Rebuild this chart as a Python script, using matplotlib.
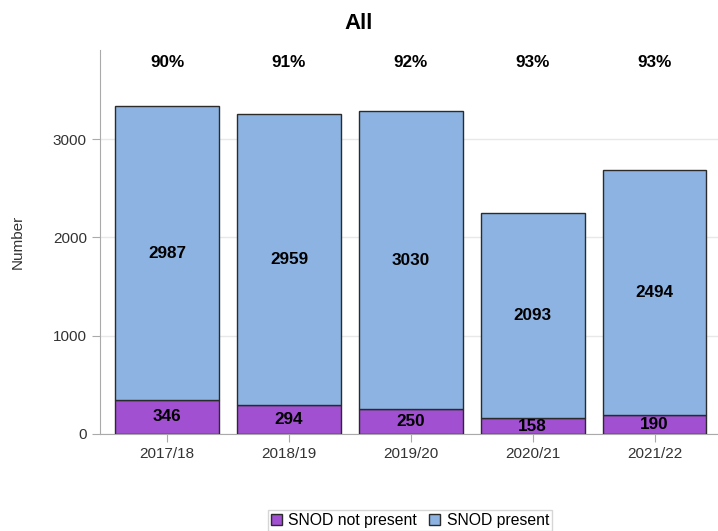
import numpy as np
import matplotlib.pyplot as plt
from matplotlib import font_manager
from matplotlib.font_manager import FontProperties
from matplotlib.patches import Patch

plt.rcParams['font.family'] = ['Liberation Sans', 'DejaVu Sans']

# make sure bold text uses the regular-width Liberation Sans Bold, not Narrow
bold_file = None
for f in font_manager.fontManager.ttflist:
    if f.name == 'Liberation Sans' and 'Narrow' not in f.fname and 'Bold' in f.fname and 'Italic' not in f.fname:
        bold_file = f.fname
        break

def bold(size):
    if bold_file:
        return FontProperties(fname=bold_file, size=size)
    return FontProperties(family='DejaVu Sans', weight='bold', size=size)

years = ['2017/18', '2018/19', '2019/20', '2020/21', '2021/22']
not_present = [346, 294, 250, 158, 190]
present = [2987, 2959, 3030, 2093, 2494]
pct = ['90%', '91%', '92%', '93%', '93%']

purple = '#A050D0'
blue = '#8DB3E2'
edge = '#2B2B2B'

fig = plt.figure(figsize=(7.18, 5.31), dpi=100)
ax = fig.add_axes([0.1393, 0.1827, 0.8607, 0.7231])

x = np.arange(len(years))
ax.bar(x, not_present, width=0.85, color=purple, edgecolor=edge, linewidth=1, zorder=3)
ax.bar(x, present, width=0.85, bottom=not_present, color=blue, edgecolor=edge, linewidth=1, zorder=3)

for i in range(len(years)):
    ax.text(x[i], not_present[i] / 2, str(not_present[i]), ha='center', va='center',
            fontproperties=bold(12.3), zorder=4)
    ax.text(x[i], not_present[i] + present[i] / 2, str(present[i]), ha='center', va='center',
            fontproperties=bold(12.3), zorder=4)
    ax.text(x[i], 3780, pct[i], ha='center', va='center', fontproperties=bold(12.3))

ax.set_xlim(-0.55, 4.52)
ax.set_ylim(0, 3905)
ax.set_xticks(x)
ax.set_xticklabels(years, fontsize=11, color='#333333')
ax.set_yticks([0, 1000, 2000, 3000])
ax.tick_params(axis='y', labelsize=11, labelcolor='#333333', color='#AAAAAA', length=6)
ax.tick_params(axis='x', color='#AAAAAA', length=6)
ax.yaxis.grid(True, color='#E8E8E8', linewidth=1, zorder=0)
ax.set_axisbelow(True)
for s in ['top', 'right']:
    ax.spines[s].set_visible(False)
for s in ['left', 'bottom']:
    ax.spines[s].set_color('#AAAAAA')
ax.set_ylabel('Number', fontsize=11, color='#333333', labelpad=20)

fig.suptitle('All', fontproperties=bold(16), y=0.975)

handles = [Patch(facecolor=purple, edgecolor=edge, label='SNOD not present'),
           Patch(facecolor=blue, edgecolor=edge, label='SNOD present')]
leg = fig.legend(handles=handles, loc='center', bbox_to_anchor=(0.571, 0.02), ncol=2,
                 fontsize=11.3, frameon=True, fancybox=False, handlelength=0.7, handleheight=0.7,
                 handletextpad=0.4, columnspacing=0.8, borderpad=0.2)
leg.get_frame().set_edgecolor('#CCCCCC')
leg.get_frame().set_linewidth(1)

fig.savefig('out.png', dpi=100)
